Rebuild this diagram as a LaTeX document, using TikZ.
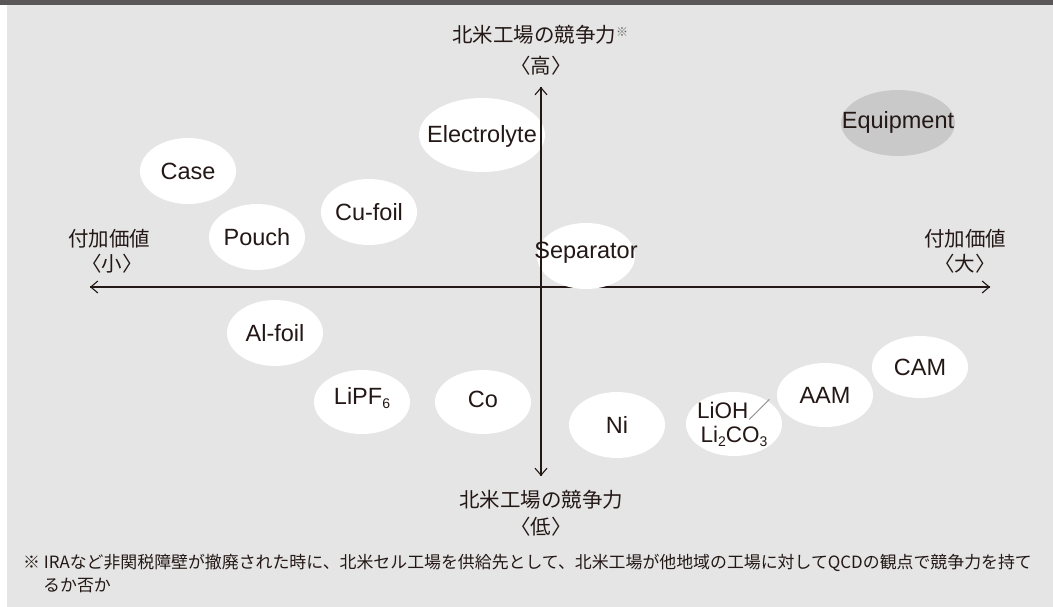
\documentclass[tikz,border=0pt]{standalone}
\usepackage{fontspec}
\setmainfont{Liberation Sans}
\newfontfamily\jp{Noto Sans CJK JP}
\usetikzlibrary{arrows.meta,shapes.geometric}
\definecolor{bg}{HTML}{E5E5E5}
\definecolor{bar}{HTML}{595757}
\definecolor{eqp}{HTML}{C9C9C9}
\definecolor{ink}{HTML}{231815}
\newcommand{\sbs}[1]{\raisebox{-4pt}{\fontsize{14}{14}\selectfont #1}}
\begin{document}
\begin{tikzpicture}[x=1pt,y=-1pt,
  blob/.style={ellipse, fill=white, draw=none, inner sep=0pt, minimum width=96pt, minimum height=66pt},
  lbl/.style={inner sep=0pt, text=ink, font=\fontsize{23.5}{26}\selectfont},
  jlbl/.style={inner sep=0pt, text=ink, font=\jp\fontsize{20.5}{24}\selectfont},
  axis/.style={draw=ink, line width=1.3pt, -{Straight Barb[length=7pt,width=12pt,line width=1.1pt]}},
  note/.style={inner sep=0pt, anchor=west, text=ink, font=\jp\fontsize{16.9}{22}\selectfont}]
\useasboundingbox (0,0) rectangle (1053,607);
\fill[white] (0,0) rectangle (1053,607);
\fill[bg] (7,0) rectangle (1053,607);
\fill[bar] (0,0) rectangle (1053,5);
% axes
\coordinate (xl) at (90,287);
\coordinate (xr) at (990,287);
\coordinate (yt) at (541,87);
\coordinate (yb) at (541,476);
\draw[axis] (xr) -- (xl);
\draw[axis] (xl) -- (xr);
% ellipses
\node[blob, minimum width=126pt, minimum height=74pt] (electrolyte) at (482,135) {};
\node[blob] (case) at (188,171) {};
\node[blob] (pouch) at (257,237) {};
\node[blob] (cufoil) at (369,212) {};
\node[blob, minimum width=98pt, minimum height=66pt] (separator) at (586,256) {};
\node[blob, fill=eqp, minimum width=114pt, minimum height=66pt] (equipment) at (898,123) {};
\node[blob] (alfoil) at (275,333) {};
\node[blob, minimum height=64pt] (lipf) at (362,402) {};
\node[blob, minimum height=64pt] (co) at (483,402) {};
\node[blob] (ni) at (617,425) {};
\node[blob, minimum height=64pt] (lioh) at (734,424) {};
\node[blob, minimum height=64pt] (aam) at (825,395) {};
\node[blob, minimum height=62pt] (cam) at (920,367) {};
\draw[axis] (yb) -- (yt);
\draw[axis] (yt) -- (yb);
% labels
\node[lbl] at ([yshift=-1pt]electrolyte.center) {Electrolyte};
\node[lbl] at (case) {Case};
\node[lbl] at (pouch) {Pouch};
\node[lbl] at (cufoil) {Cu-foil};
\node[lbl] at ([yshift=3pt]separator.center) {Separator};
\node[lbl] at ([yshift=1pt]equipment.center) {Equipment};
\node[lbl] at (alfoil) {Al-foil};
\node[lbl] at ([yshift=4pt]lipf.center) {LiPF\sbs{6}};
\node[lbl] at ([yshift=3pt]co.center) {Co};
\node[lbl] at (ni) {Ni};
\node[lbl, align=center, font=\fontsize{22.5}{24}\selectfont] at ([yshift=1pt]lioh.center) {LiOH{\jp\color{gray}／}\\Li\sbs{2}CO\sbs{3}};
\node[lbl] at (aam) {AAM};
\node[lbl] at (cam) {CAM};
% axis labels
\node[jlbl] (ttop) at (540,35) {北米工場の競争力\raisebox{6pt}{\fontsize{12}{12}\selectfont\color{gray!80!black}※}};
\node[jlbl] (thigh) at (541,66) {〈高〉};
\node[jlbl] (tbot) at (541,500) {北米工場の競争力};
\node[jlbl] (tlow) at (541,527) {〈低〉};
\node[jlbl] (lv1) at (109,239) {付加価値};
\node[jlbl] (lv2) at (112,264) {〈小〉};
\node[jlbl] (rv1) at (965,239) {付加価値};
\node[jlbl] (rv2) at (965,264) {〈大〉};
% footnote
\node[note] (fn1) at (23,563) {※ IRAなど非関税障壁が撤廃された時に、北米セル工場を供給先として、北米工場が他地域の工場に対してQCDの観点で競争力を持て};
\node[note] (fn2) at (43,585) {るか否か};
\end{tikzpicture}
\end{document}
